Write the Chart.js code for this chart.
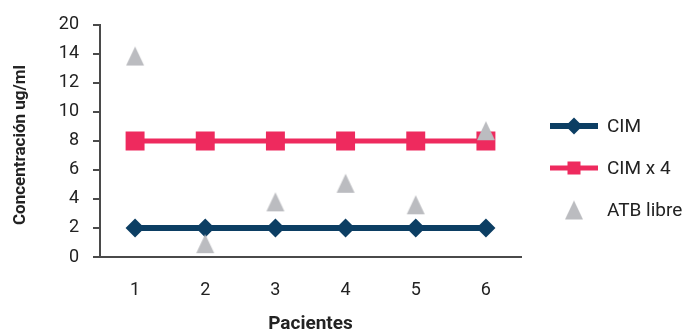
<!DOCTYPE html>
<html>
<head>
<meta charset="utf-8">
<script src="https://cdn.jsdelivr.net/npm/chart.js@4/dist/chart.umd.min.js"></script>
<style>
  html, body { margin: 0; padding: 0; background: #ffffff; }
  #wrap { width: 687px; height: 334px; position: relative; }
</style>
</head>
<body>
<div id="wrap"><canvas id="chart" width="687" height="334"></canvas></div>
<script>
// Patient numbers along the x axis
const categories = ['1', '2', '3', '4', '5', '6'];
// Concentration values (ug/ml)
const cim = [2, 2, 2, 2, 2, 2];
const cimX4 = [8, 8, 8, 8, 8, 8];
const atbLibre = [13.85, 0.92, 3.8, 5.08, 3.6, 8.7];
// Y tick labels as printed on the axis
const yTickLabels = ['0', '2', '4', '6', '8', '10', '12', '14', '20'];
const seriesNames = ['CIM', 'CIM x 4', 'ATB libre'];

const NAVY = '#0c3e63';
const PINK = '#ee2a5e';
const GREY = '#bbbcc0';
const TEXT = '#222222';
const AXIS = '#4a4a4a';
const FONT = 'Roboto, "Liberation Sans", sans-serif';

// Triangle marker drawn on a small canvas
function makeTriangle(w, h, color) {
  const c = document.createElement('canvas');
  c.width = w + 2; c.height = h + 2;
  const g = c.getContext('2d');
  g.fillStyle = color;
  g.beginPath();
  g.moveTo((w + 2) / 2, 1);
  g.lineTo(w + 1, h + 1);
  g.lineTo(1, h + 1);
  g.closePath();
  g.fill();
  return c;
}
const tri = makeTriangle(18, 19, GREY);

// Legend at the right and rotated y title
const sidePlugin = {
  id: 'side',
  afterDraw(chart) {
    const ctx = chart.ctx;
    ctx.save();
    // y axis title
    ctx.fillStyle = TEXT;
    ctx.font = 'bold 17px ' + FONT;
    ctx.textAlign = 'center';
    ctx.textBaseline = 'middle';
    ctx.translate(21, 145);
    ctx.rotate(-Math.PI / 2);
    ctx.fillText('Concentración ug/ml', 0, 0);
    ctx.restore();

    ctx.save();
    const x0 = 550, x1 = 598, mx = 574, tx = 607;
    const rows = [126, 168, 210];
    // CIM
    ctx.strokeStyle = NAVY; ctx.lineWidth = 6;
    ctx.beginPath(); ctx.moveTo(x0, rows[0]); ctx.lineTo(x1, rows[0]); ctx.stroke();
    ctx.fillStyle = NAVY;
    ctx.beginPath();
    ctx.moveTo(mx, rows[0] - 8.5); ctx.lineTo(mx + 8.5, rows[0]);
    ctx.lineTo(mx, rows[0] + 8.5); ctx.lineTo(mx - 8.5, rows[0]);
    ctx.closePath(); ctx.fill();
    // CIM x 4
    ctx.strokeStyle = PINK; ctx.lineWidth = 5;
    ctx.beginPath(); ctx.moveTo(x0, rows[1]); ctx.lineTo(x1, rows[1]); ctx.stroke();
    ctx.fillStyle = PINK;
    ctx.fillRect(mx - 6.5, rows[1] - 6.5, 13, 13);
    // ATB libre
    ctx.drawImage(tri, mx - tri.width / 2, rows[2] - tri.height / 2);
    // labels
    ctx.fillStyle = TEXT;
    ctx.font = '19px ' + FONT;
    ctx.textAlign = 'left';
    ctx.textBaseline = 'middle';
    seriesNames.forEach((n, i) => ctx.fillText(n, tx, rows[i] + 1));
    ctx.restore();
  }
};

new Chart(document.getElementById('chart'), {
  type: 'line',
  data: {
    labels: categories,
    datasets: [
      {
        label: seriesNames[0], data: cim, order: 2,
        borderColor: NAVY, backgroundColor: NAVY, borderWidth: 6,
        pointStyle: 'rectRot', pointRadius: 9.5, pointHoverRadius: 9.5,
        pointBorderWidth: 0, tension: 0
      },
      {
        label: seriesNames[1], data: cimX4, order: 1,
        borderColor: PINK, backgroundColor: PINK, borderWidth: 5,
        pointStyle: 'rect', pointRadius: 13.4, pointHoverRadius: 13.4,
        pointBorderWidth: 0, tension: 0
      },
      {
        label: seriesNames[2], data: atbLibre, order: 0,
        showLine: false, borderColor: GREY, backgroundColor: GREY,
        pointStyle: tri, pointRadius: 10, pointHoverRadius: 10
      }
    ]
  },
  options: {
    responsive: false,
    animation: false,
    events: [],
    layout: { padding: { left: 0, right: 166, top: 21, bottom: 0 } },
    plugins: { legend: { display: false }, tooltip: { enabled: false } },
    scales: {
      x: {
        offset: true,
        grid: { display: false, drawTicks: false },
        border: { display: true, color: AXIS, width: 2 },
        ticks: { color: TEXT, font: { family: FONT, size: 18 }, padding: 23 },
        title: {
          display: true, text: 'Pacientes', color: TEXT,
          font: { family: FONT, size: 19, weight: 'bold', lineHeight: 1.0 },
          padding: { top: 16, bottom: 0 }
        },
        afterFit(s) { s.height = 334 - 257; }
      },
      y: {
        min: 0, max: 16,
        ticks: {
          stepSize: 2, color: TEXT, font: { family: FONT, size: 18 }, padding: 14,
          callback: (v, i) => yTickLabels[i]
        },
        grid: { drawOnChartArea: false, drawTicks: true, tickLength: 7, color: AXIS, lineWidth: 2 },
        border: { display: true, color: AXIS, width: 2 },
        afterFit(s) { s.width = 100; }
      }
    }
  },
  plugins: [sidePlugin]
});
</script>
</body>
</html>
